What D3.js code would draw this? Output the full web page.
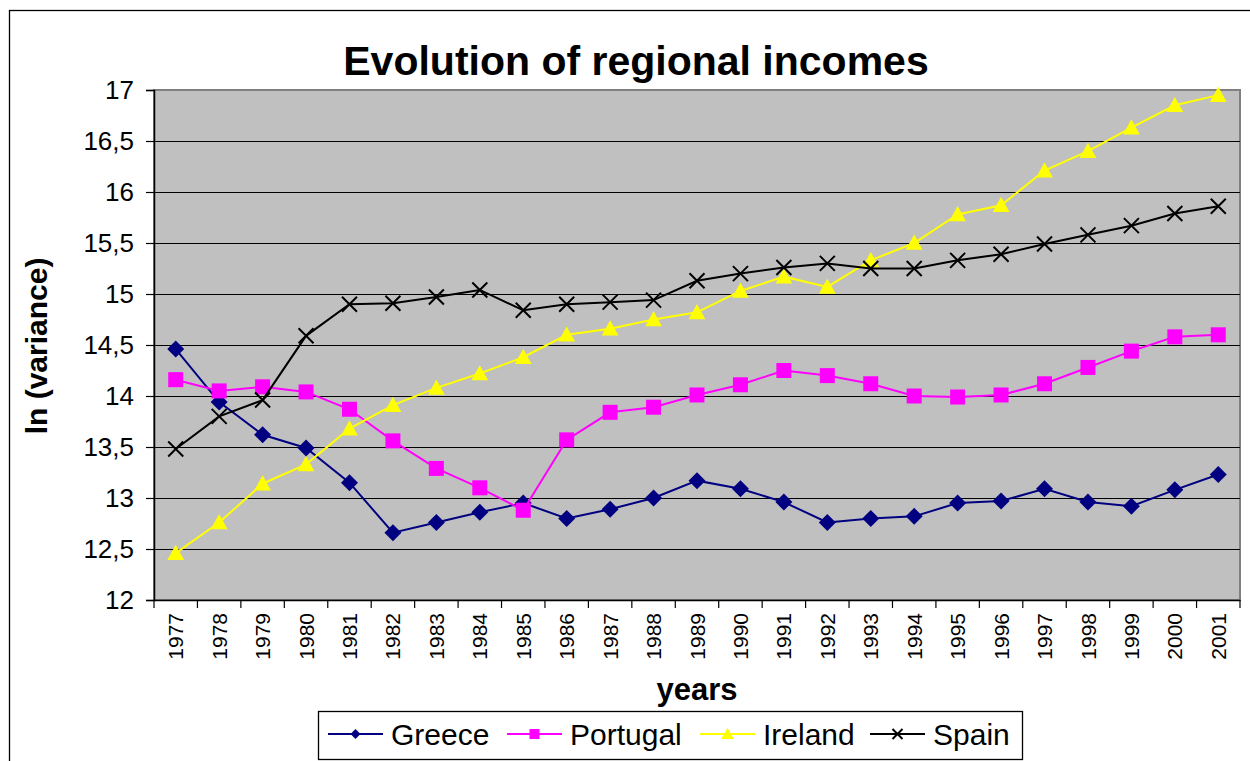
<!DOCTYPE html>
<html>
<head>
<meta charset="utf-8">
<script src="https://cdn.jsdelivr.net/npm/d3@7"></script>
<style>
  html, body { margin: 0; padding: 0; background: #fff; }
  svg { display: block; font-family: "Liberation Sans", Arial, sans-serif; }
</style>
</head>
<body>
<div id="chart"></div>
<script>
// datos
const years = ["1977","1978","1979","1980","1981","1982","1983","1984","1985","1986","1987","1988","1989",
  "1990","1991","1992","1993","1994","1995","1996","1997","1998","1999","2000","2001"];

const greece = [14.46, 13.94, 13.62, 13.49, 13.15, 12.66, 12.76, 12.86, 12.95, 12.80, 12.89, 13.00, 13.17,
  13.09, 12.96, 12.76, 12.80, 12.82, 12.95, 12.97, 13.09, 12.96, 12.92, 13.08, 13.23];
const portugal = [14.16, 14.05, 14.09, 14.04, 13.87, 13.56, 13.29, 13.10, 12.88, 13.57, 13.84, 13.89, 14.01,
  14.11, 14.25, 14.20, 14.12, 14.00, 13.99, 14.01, 14.12, 14.28, 14.44, 14.58, 14.60];
const ireland = [12.46, 12.76, 13.14, 13.33, 13.68, 13.91, 14.08, 14.22, 14.38, 14.60, 14.66, 14.75, 14.82,
  15.03, 15.17, 15.07, 15.33, 15.50, 15.78, 15.87, 16.21, 16.40, 16.63, 16.85, 16.95];
const spain = [13.48, 13.80, 13.96, 14.59, 14.90, 14.91, 14.97, 15.04, 14.84, 14.90, 14.92, 14.94, 15.13,
  15.20, 15.26, 15.30, 15.25, 15.25, 15.33, 15.39, 15.49, 15.58, 15.67, 15.79, 15.86];

const yTicks = [12, 12.5, 13, 13.5, 14, 14.5, 15, 15.5, 16, 16.5, 17];

const series = [
  { name: "Greece", values: greece, color: "#000080", marker: "diamond" },
  { name: "Portugal", values: portugal, color: "#FF00FF", marker: "square" },
  { name: "Ireland", values: ireland, color: "#FFFF00", marker: "triangle" },
  { name: "Spain", values: spain, color: "#000000", marker: "cross" }
];

const width = 1250, height = 761;
const plot = { left: 154, right: 1240, top: 90, bottom: 600 };

const svg = d3.select("#chart").append("svg")
  .attr("width", width)
  .attr("height", height);

// marco exterior
svg.append("rect")
  .attr("x", 9.5).attr("y", 10.5)
  .attr("width", 1300).attr("height", 800)
  .attr("fill", "#fff")
  .attr("stroke", "#000")
  .attr("stroke-width", 1.3);

const x = d3.scaleBand().domain(years).range([plot.left, plot.right]);
const y = d3.scaleLinear().domain([12, 17]).range([plot.bottom, plot.top]);

// área de trazado
svg.append("rect")
  .attr("x", plot.left).attr("y", plot.top)
  .attr("width", plot.right - plot.left).attr("height", plot.bottom - plot.top)
  .attr("fill", "#C0C0C0")
  .attr("stroke", "#808080")
  .attr("stroke-width", 2);

// líneas de cuadrícula
svg.append("g")
  .selectAll("line")
  .data(yTicks.filter(d => d > 12 && d < 17))
  .enter().append("line")
  .attr("x1", plot.left).attr("x2", plot.right)
  .attr("y1", d => Math.round(y(d)) + 0.5)
  .attr("y2", d => Math.round(y(d)) + 0.5)
  .attr("stroke", "#000")
  .attr("stroke-width", 1);

// eje Y
const yAxis = svg.append("g")
  .attr("transform", `translate(${plot.left},0)`)
  .call(d3.axisLeft(y).tickValues(yTicks).tickSize(8).tickPadding(12)
    .tickFormat(d => String(d).replace(".", ",")));
yAxis.select(".domain").attr("stroke", "#000").attr("stroke-width", 1.5);
yAxis.selectAll(".tick line").attr("stroke", "#000").attr("stroke-width", 1.2);
yAxis.selectAll(".tick text")
  .attr("fill", "#000")
  .style("font-size", "26px")
  .style("font-family", "'Liberation Sans', Arial, sans-serif");

// eje X
const xAxis = svg.append("g")
  .attr("transform", `translate(0,${plot.bottom})`)
  .call(d3.axisBottom(x).tickSize(0).tickFormat(""));
xAxis.select(".domain").attr("stroke", "#000").attr("stroke-width", 1.5);

const bounds = years.map(d => x(d)).concat([plot.right]);
svg.append("g")
  .selectAll("line")
  .data(bounds)
  .enter().append("line")
  .attr("x1", d => d).attr("x2", d => d)
  .attr("y1", plot.bottom).attr("y2", plot.bottom + 8)
  .attr("stroke", "#000")
  .attr("stroke-width", 1.2);

svg.append("g")
  .selectAll("text")
  .data(years)
  .enter().append("text")
  .attr("transform", d => `translate(${x(d) + x.bandwidth() / 2},613) rotate(-90)`)
  .attr("text-anchor", "end")
  .attr("dy", "0.36em")
  .style("font-size", "21px")
  .text(d => d);

// títulos
svg.append("text")
  .attr("x", 636).attr("y", 75)
  .attr("text-anchor", "middle")
  .style("font-size", "41px")
  .style("font-weight", "bold")
  .text("Evolution of regional incomes");

svg.append("text")
  .attr("transform", "translate(47,346) rotate(-90)")
  .attr("text-anchor", "middle")
  .style("font-size", "30px")
  .style("font-weight", "bold")
  .text("ln (variance)");

svg.append("text")
  .attr("x", 697).attr("y", 700)
  .attr("text-anchor", "middle")
  .style("font-size", "31px")
  .style("font-weight", "bold")
  .text("years");

// marcadores
function drawMarker(g, type, color, s) {
  if (type === "diamond") {
    g.append("path")
      .attr("d", `M0,${-s}L${s},0L0,${s}L${-s},0Z`)
      .attr("fill", color);
  } else if (type === "square") {
    g.append("rect")
      .attr("x", -s).attr("y", -s)
      .attr("width", 2 * s).attr("height", 2 * s)
      .attr("fill", color);
  } else if (type === "triangle") {
    g.append("path")
      .attr("d", `M0,${-s * 1.05}L${s * 1.05},${s * 0.85}L${-s * 1.05},${s * 0.85}Z`)
      .attr("fill", color);
  } else {
    g.append("path")
      .attr("d", `M${-s},${-s}L${s},${s}M${s},${-s}L${-s},${s}`)
      .attr("stroke", color)
      .attr("stroke-width", 2)
      .attr("fill", "none");
  }
}

const markerSize = { diamond: 8.5, square: 7.5, triangle: 8, cross: 7.5 };

const line = d3.line()
  .x((d, i) => x(years[i]) + x.bandwidth() / 2)
  .y(d => y(d));

series.forEach(s => {
  const g = svg.append("g");
  g.append("path")
    .attr("d", line(s.values))
    .attr("fill", "none")
    .attr("stroke", s.color)
    .attr("stroke-width", 2);
  g.selectAll("g.pt")
    .data(s.values)
    .enter().append("g")
    .attr("class", "pt")
    .attr("transform", (d, i) => `translate(${x(years[i]) + x.bandwidth() / 2},${y(d)})`)
    .each(function() { drawMarker(d3.select(this), s.marker, s.color, markerSize[s.marker]); });
});

// leyenda
const legend = svg.append("g");
legend.append("rect")
  .attr("x", 318.5).attr("y", 711.5)
  .attr("width", 704).attr("height", 48)
  .attr("fill", "#fff")
  .attr("stroke", "#000")
  .attr("stroke-width", 1.3);

const legendX = [328, 507, 700, 870];
const legendMarker = { diamond: 5, square: 5, triangle: 6, cross: 5 };
series.forEach((s, i) => {
  const lx = legendX[i];
  const g = legend.append("g");
  g.append("line")
    .attr("x1", lx).attr("x2", lx + 55)
    .attr("y1", 734).attr("y2", 734)
    .attr("stroke", s.color)
    .attr("stroke-width", 2);
  const m = g.append("g").attr("transform", `translate(${lx + 27.5},734)`);
  drawMarker(m, s.marker, s.color, legendMarker[s.marker]);
  g.append("text")
    .attr("x", lx + 63).attr("y", 745)
    .style("font-size", "30px")
    .text(s.name);
});
</script>
</body>
</html>
